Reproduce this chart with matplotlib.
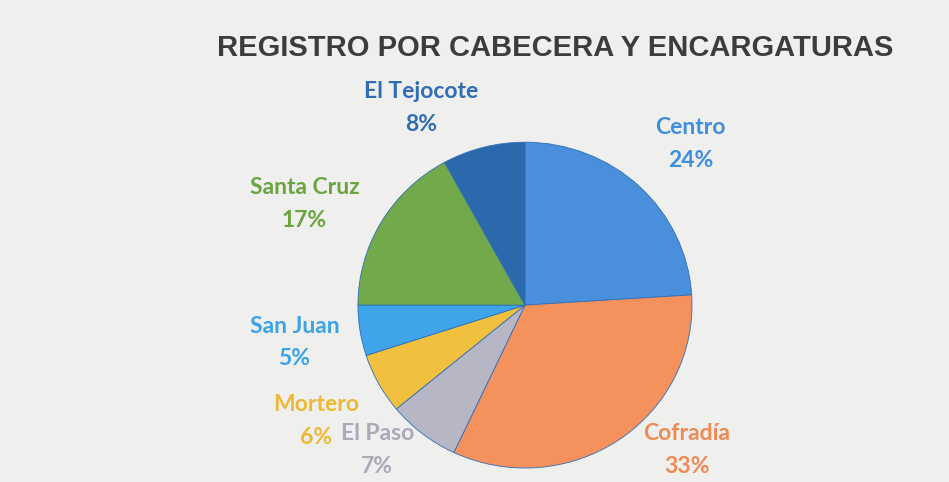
import matplotlib
matplotlib.use("Agg")
import matplotlib.pyplot as plt

# datos del grafico
nombres = ["Centro", "Cofradía", "El Paso", "Mortero", "San Juan", "Santa Cruz", "El Tejocote"]
porcentajes = [24, 33, 7, 6, 5, 17, 8]
colores = ["#4A8FDB", "#F4915C", "#B6B6C4", "#F2C03F", "#3EA5EB", "#72A94A", "#2C69AC"]
colores_texto = ["#3F8EE0", "#EE8A55", "#A9A9BA", "#EDB935", "#3AA3EA", "#6AA43F", "#2F6DB5"]

# posiciones de las etiquetas (coordenadas del pastel)
pos_etiquetas = [(0.99, 0.99), (0.97, -0.89), (-0.885, -0.89), (-1.25, -0.71),
                 (-1.38, -0.23), (-1.32, 0.62), (-0.62, 1.21)]
medio_renglon = 0.1

fig = plt.figure(figsize=(9.49, 4.82), dpi=100)
fig.patch.set_facecolor("#EFEFED")

fig.text(0.585, 0.9, "REGISTRO POR CABECERA Y ENCARGATURAS", ha="center", va="center",
         fontsize=21, fontweight="bold", family="Liberation Sans", color="#3C3C3E")

ax = fig.add_axes([0.3772, 0.029, 0.352, 0.676])
ax.pie(porcentajes, colors=colores, startangle=90, counterclock=False,
       wedgeprops={"linewidth": 0.6, "edgecolor": "#2E6FB8"})
ax.set_aspect("auto")
ax.set_xlim(-1, 1)
ax.set_ylim(-1, 1)

for nombre, p, c, (x, y) in zip(nombres, porcentajes, colores_texto, pos_etiquetas):
    ax.text(x, y + medio_renglon, nombre, ha="center", va="center", fontsize=16.5,
            fontweight="bold", family="Lato", color=c, clip_on=False)
    ax.text(x, y - medio_renglon, f"{p}%", ha="center", va="center", fontsize=16.5,
            fontweight="bold", family="Lato", color=c, clip_on=False)

fig.savefig("out.png", dpi=100, facecolor=fig.get_facecolor())
